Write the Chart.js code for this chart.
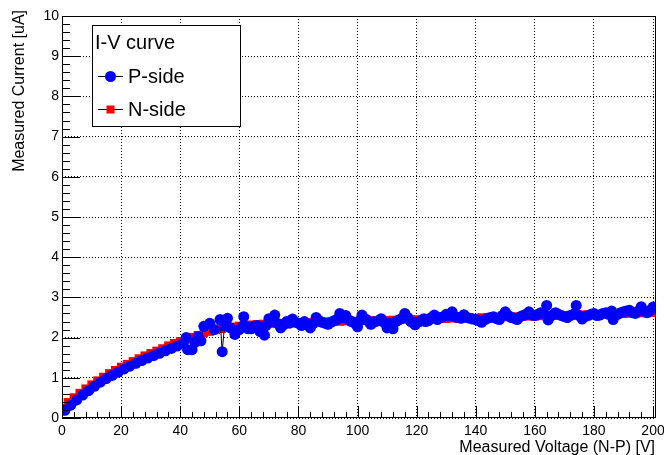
<!DOCTYPE html>
<html>
<head>
<meta charset="utf-8">
<script src="https://cdn.jsdelivr.net/npm/chart.js@4/dist/chart.umd.min.js"></script>
<style>
  html, body { margin: 0; padding: 0; background: #fff; }
  #wrap { width: 664px; height: 455px; }
</style>
</head>
<body>
<div id="wrap"><canvas id="myChart" width="664" height="455"></canvas></div>
<script>
// tick labels
var xTicks = [0, 20, 40, 60, 80, 100, 120, 140, 160, 180, 200];
var yTicks = [0, 1, 2, 3, 4, 5, 6, 7, 8, 9, 10];

// P-side: measured voltage [V] and current [uA]
var pVolt = [1, 3, 5, 7, 9, 11, 13, 15, 17, 19,
  21, 23, 25, 27, 29, 31, 33, 35, 37, 39,
  41, 42, 42.5, 44, 45, 46, 47, 48, 50, 51.5,
  53.5, 54.2, 55, 56, 57, 58.5, 60, 61, 61.5, 62.5,
  63, 64, 65, 66, 67, 68, 68.5, 69, 70, 71,
  72, 73, 74, 75, 76, 77, 78, 79, 80, 81,
  82, 83, 84, 85, 86, 87, 88, 89, 90, 91,
  92, 93, 94, 95, 96, 97, 98, 99, 100, 101,
  101.5, 102, 103, 104, 104.5, 105, 106, 107, 108, 109,
  110, 111, 112, 113, 114, 115, 116, 117, 118, 119,
  119.5, 120, 121, 122, 122.5, 123, 124, 125, 126, 127,
  128, 129, 130, 131, 132, 133, 134, 135, 136, 137,
  138, 139, 140, 141, 142, 143, 144, 145, 146, 147,
  148, 149, 150, 151, 152, 153, 154, 155, 156, 157,
  158, 159, 160, 161, 162, 163, 164, 164.5, 165, 166,
  167, 168, 169, 170, 171, 172, 173, 174, 175, 176,
  177, 178, 179, 180, 181, 182, 183, 184, 185, 186,
  186.5, 187, 188, 189, 190, 191, 192, 193, 194, 195,
  196, 197, 198, 199, 200];
var pCurr = [0.19, 0.32, 0.45, 0.57, 0.68, 0.79, 0.89, 0.98, 1.06, 1.14,
  1.22, 1.29, 1.36, 1.43, 1.49, 1.55, 1.61, 1.67, 1.73, 1.79,
  1.86, 2.00, 1.70, 1.70, 1.88, 2.03, 1.92, 2.28, 2.36, 2.20,
  2.45, 1.65, 2.30, 2.48, 2.24, 2.08, 2.20, 2.28, 2.52, 2.27,
  2.22, 2.22, 2.28, 2.30, 2.15, 2.25, 2.06, 2.30, 2.47, 2.40,
  2.56, 2.35, 2.24, 2.32, 2.40, 2.36, 2.46, 2.38, 2.36, 2.30,
  2.40, 2.33, 2.24, 2.35, 2.50, 2.42, 2.38, 2.36, 2.33, 2.38,
  2.42, 2.45, 2.60, 2.50, 2.55, 2.44, 2.40, 2.36, 2.27, 2.44,
  2.56, 2.48, 2.45, 2.38, 2.33, 2.36, 2.40, 2.42, 2.47, 2.38,
  2.24, 2.35, 2.22, 2.40, 2.44, 2.48, 2.60, 2.50, 2.40, 2.36,
  2.32, 2.38, 2.40, 2.44, 2.47, 2.40, 2.42, 2.50, 2.56, 2.45,
  2.50, 2.52, 2.58, 2.55, 2.64, 2.52, 2.50, 2.48, 2.57, 2.50,
  2.48, 2.46, 2.45, 2.42, 2.38, 2.44, 2.48, 2.50, 2.52, 2.47,
  2.45, 2.55, 2.64, 2.55, 2.50, 2.48, 2.45, 2.52, 2.55, 2.58,
  2.64, 2.56, 2.55, 2.58, 2.62, 2.60, 2.80, 2.44, 2.52, 2.56,
  2.62, 2.58, 2.55, 2.52, 2.50, 2.55, 2.58, 2.80, 2.55, 2.46,
  2.52, 2.55, 2.58, 2.60, 2.55, 2.56, 2.60, 2.62, 2.58, 2.66,
  2.45, 2.55, 2.58, 2.62, 2.64, 2.66, 2.68, 2.62, 2.60, 2.66,
  2.77, 2.65, 2.62, 2.68, 2.76];

// N-side: measured voltage [V] and current [uA]
var nVolt = [0, 2, 4, 6, 8, 10, 12, 14, 16, 18, 20, 22, 24, 26, 28, 30, 32, 34, 36, 38,
  40, 42, 44, 46, 48, 50, 52, 54, 56, 58, 60, 62, 64, 66, 68, 70, 72, 74, 76, 78,
  80, 82, 84, 86, 88, 90, 92, 94, 96, 98, 100, 102, 104, 106, 108, 110, 112, 114, 116, 118,
  120, 122, 124, 126, 128, 130, 132, 134, 136, 138, 140, 142, 144, 146, 148, 150, 152, 154, 156, 158,
  160, 162, 164, 166, 168, 170, 172, 174, 176, 178, 180, 182, 184, 186, 188, 190, 192, 194, 196, 198, 200];
var nCurr = [0.25, 0.39, 0.51, 0.62, 0.73, 0.83, 0.93, 1.02, 1.11, 1.19, 1.27, 1.34, 1.41, 1.48, 1.55, 1.61, 1.67, 1.73, 1.80, 1.86,
  1.91, 1.96, 2.01, 2.06, 2.11, 2.15, 2.19, 2.22, 2.25, 2.27, 2.29, 2.31, 2.32, 2.33, 2.34, 2.35, 2.35, 2.36, 2.36, 2.37,
  2.37, 2.38, 2.38, 2.39, 2.39, 2.40, 2.40, 2.40, 2.41, 2.41, 2.41, 2.42, 2.42, 2.43, 2.43, 2.43, 2.44, 2.44, 2.45, 2.45,
  2.45, 2.46, 2.46, 2.47, 2.47, 2.47, 2.48, 2.48, 2.49, 2.49, 2.49, 2.50, 2.50, 2.51, 2.51, 2.51, 2.52, 2.52, 2.53, 2.53,
  2.53, 2.54, 2.54, 2.55, 2.55, 2.55, 2.56, 2.56, 2.57, 2.57, 2.57, 2.58, 2.58, 2.59, 2.59, 2.59, 2.60, 2.60, 2.61, 2.61, 2.62];

var FONT = "'Liberation Sans', Arial, Helvetica, sans-serif";

function pairs(xs, ys) {
  return xs.map(function(x, i) { return { x: x, y: ys[i] }; });
}

// ROOT style frame, inward ticks, axis titles and legend box
var rootStyle = {
  id: "rootStyle",
  afterDraw: function(chart) {
    var ctx = chart.ctx;
    var a = chart.chartArea;
    var xs = chart.scales.x;
    var ys = chart.scales.y;
    ctx.save();
    ctx.strokeStyle = "#000";
    ctx.lineWidth = 1;
    ctx.strokeRect(Math.round(a.left) + 0.5, Math.round(a.top) + 0.5,
      Math.round(a.right - a.left) - 1, Math.round(a.bottom - a.top) - 1);

    ctx.beginPath();
    for (var v = 0; v <= 200; v += 4) {
      var px = Math.round(xs.getPixelForValue(v)) + 0.5;
      var len = (v % 20 === 0) ? 12 : 6;
      ctx.moveTo(px, a.bottom);
      ctx.lineTo(px, a.bottom - len);
    }
    for (var k = 0; k <= 50; k++) {
      var py = Math.round(ys.getPixelForValue(k / 5)) + 0.5;
      var l2 = (k % 5 === 0) ? 18 : 8;
      ctx.moveTo(a.left, py);
      ctx.lineTo(a.left + l2, py);
    }
    ctx.stroke();

    // axis titles
    ctx.fillStyle = "#000";
    ctx.font = "16px " + FONT;
    ctx.textAlign = "right";
    ctx.textBaseline = "alphabetic";
    ctx.fillText("Measured Voltage (N-P) [V]", a.right - 1, 452);
    ctx.save();
    ctx.translate(24, a.top - 6);
    ctx.rotate(-Math.PI / 2);
    ctx.fillText("Measured Current [uA]", 0, 0);
    ctx.restore();

    // legend
    ctx.fillStyle = "#fff";
    ctx.fillRect(92, 25, 148, 101);
    ctx.strokeRect(92.5, 25.5, 148, 101);
    ctx.fillStyle = "#000";
    ctx.font = "20px " + FONT;
    ctx.textAlign = "left";
    ctx.textBaseline = "middle";
    ctx.fillText("I-V curve", 95, 43);
    var items = [
      { label: "P-side", y: 76, color: "#0000ff", shape: "circle" },
      { label: "N-side", y: 109, color: "#ff0000", shape: "rect" }
    ];
    items.forEach(function(it) {
      ctx.beginPath();
      ctx.moveTo(98, it.y + 0.5);
      ctx.lineTo(123, it.y + 0.5);
      ctx.strokeStyle = "#000";
      ctx.stroke();
      ctx.fillStyle = it.color;
      if (it.shape === "circle") {
        ctx.beginPath();
        ctx.arc(110.5, it.y + 0.5, 5.5, 0, Math.PI * 2);
        ctx.fill();
      } else {
        ctx.fillRect(106.5, it.y - 3.5, 8, 8);
      }
      ctx.fillStyle = "#000";
      ctx.fillText(it.label, 128, it.y + 1);
    });
    ctx.restore();
  }
};

var whiteBg = {
  id: "whiteBg",
  beforeDraw: function(chart) {
    var ctx = chart.ctx;
    ctx.save();
    ctx.fillStyle = "#fff";
    ctx.fillRect(0, 0, chart.width, chart.height);
    ctx.restore();
  }
};

var ctx = document.getElementById("myChart");
var ivChart = new Chart(ctx, {
  type: "scatter",
  data: {
    datasets: [
      {
        label: "P-side",
        data: pairs(pVolt, pCurr),
        showLine: true,
        borderColor: "#000",
        borderWidth: 1,
        pointStyle: "circle",
        pointRadius: 5.5,
        pointBackgroundColor: "#0000ff",
        pointBorderColor: "#0000ff",
        pointBorderWidth: 0,
        pointHoverRadius: 5.5
      },
      {
        label: "N-side",
        data: pairs(nVolt, nCurr),
        showLine: true,
        borderColor: "#000",
        borderWidth: 1,
        pointStyle: "rect",
        pointRadius: 6,
        pointBackgroundColor: "#ff0000",
        pointBorderColor: "#ff0000",
        pointBorderWidth: 0,
        pointHoverRadius: 6
      }
    ]
  },
  options: {
    responsive: false,
    animation: false,
    events: [],
    layout: { padding: { top: 16, right: 8, left: 0, bottom: 0 } },
    plugins: {
      legend: { display: false },
      tooltip: { enabled: false }
    },
    scales: {
      x: {
        type: "linear",
        min: 0,
        max: 201,
        afterBuildTicks: function(s) { s.ticks = xTicks.map(function(v) { return { value: v }; }); },
        afterFit: function(s) { s.height = 37; s.paddingLeft = 0; s.paddingRight = 0; },
        grid: { color: "#000", lineWidth: 1, drawTicks: false },
        border: { display: false, dash: [1, 2] },
        ticks: {
          color: "#000",
          font: { family: FONT, size: 14 },
          padding: 5,
          maxRotation: 0,
          autoSkip: false
        }
      },
      y: {
        type: "linear",
        min: 0,
        max: 10,
        afterBuildTicks: function(s) { s.ticks = yTicks.map(function(v) { return { value: v }; }); },
        afterFit: function(s) { s.width = 62; s.paddingTop = 0; s.paddingBottom = 0; },
        grid: { color: "#000", lineWidth: 1, drawTicks: false },
        border: { display: false, dash: [1, 2] },
        ticks: {
          color: "#000",
          font: { family: FONT, size: 14 },
          padding: 3
        }
      }
    }
  },
  plugins: [whiteBg, rootStyle]
});
</script>
</body>
</html>
